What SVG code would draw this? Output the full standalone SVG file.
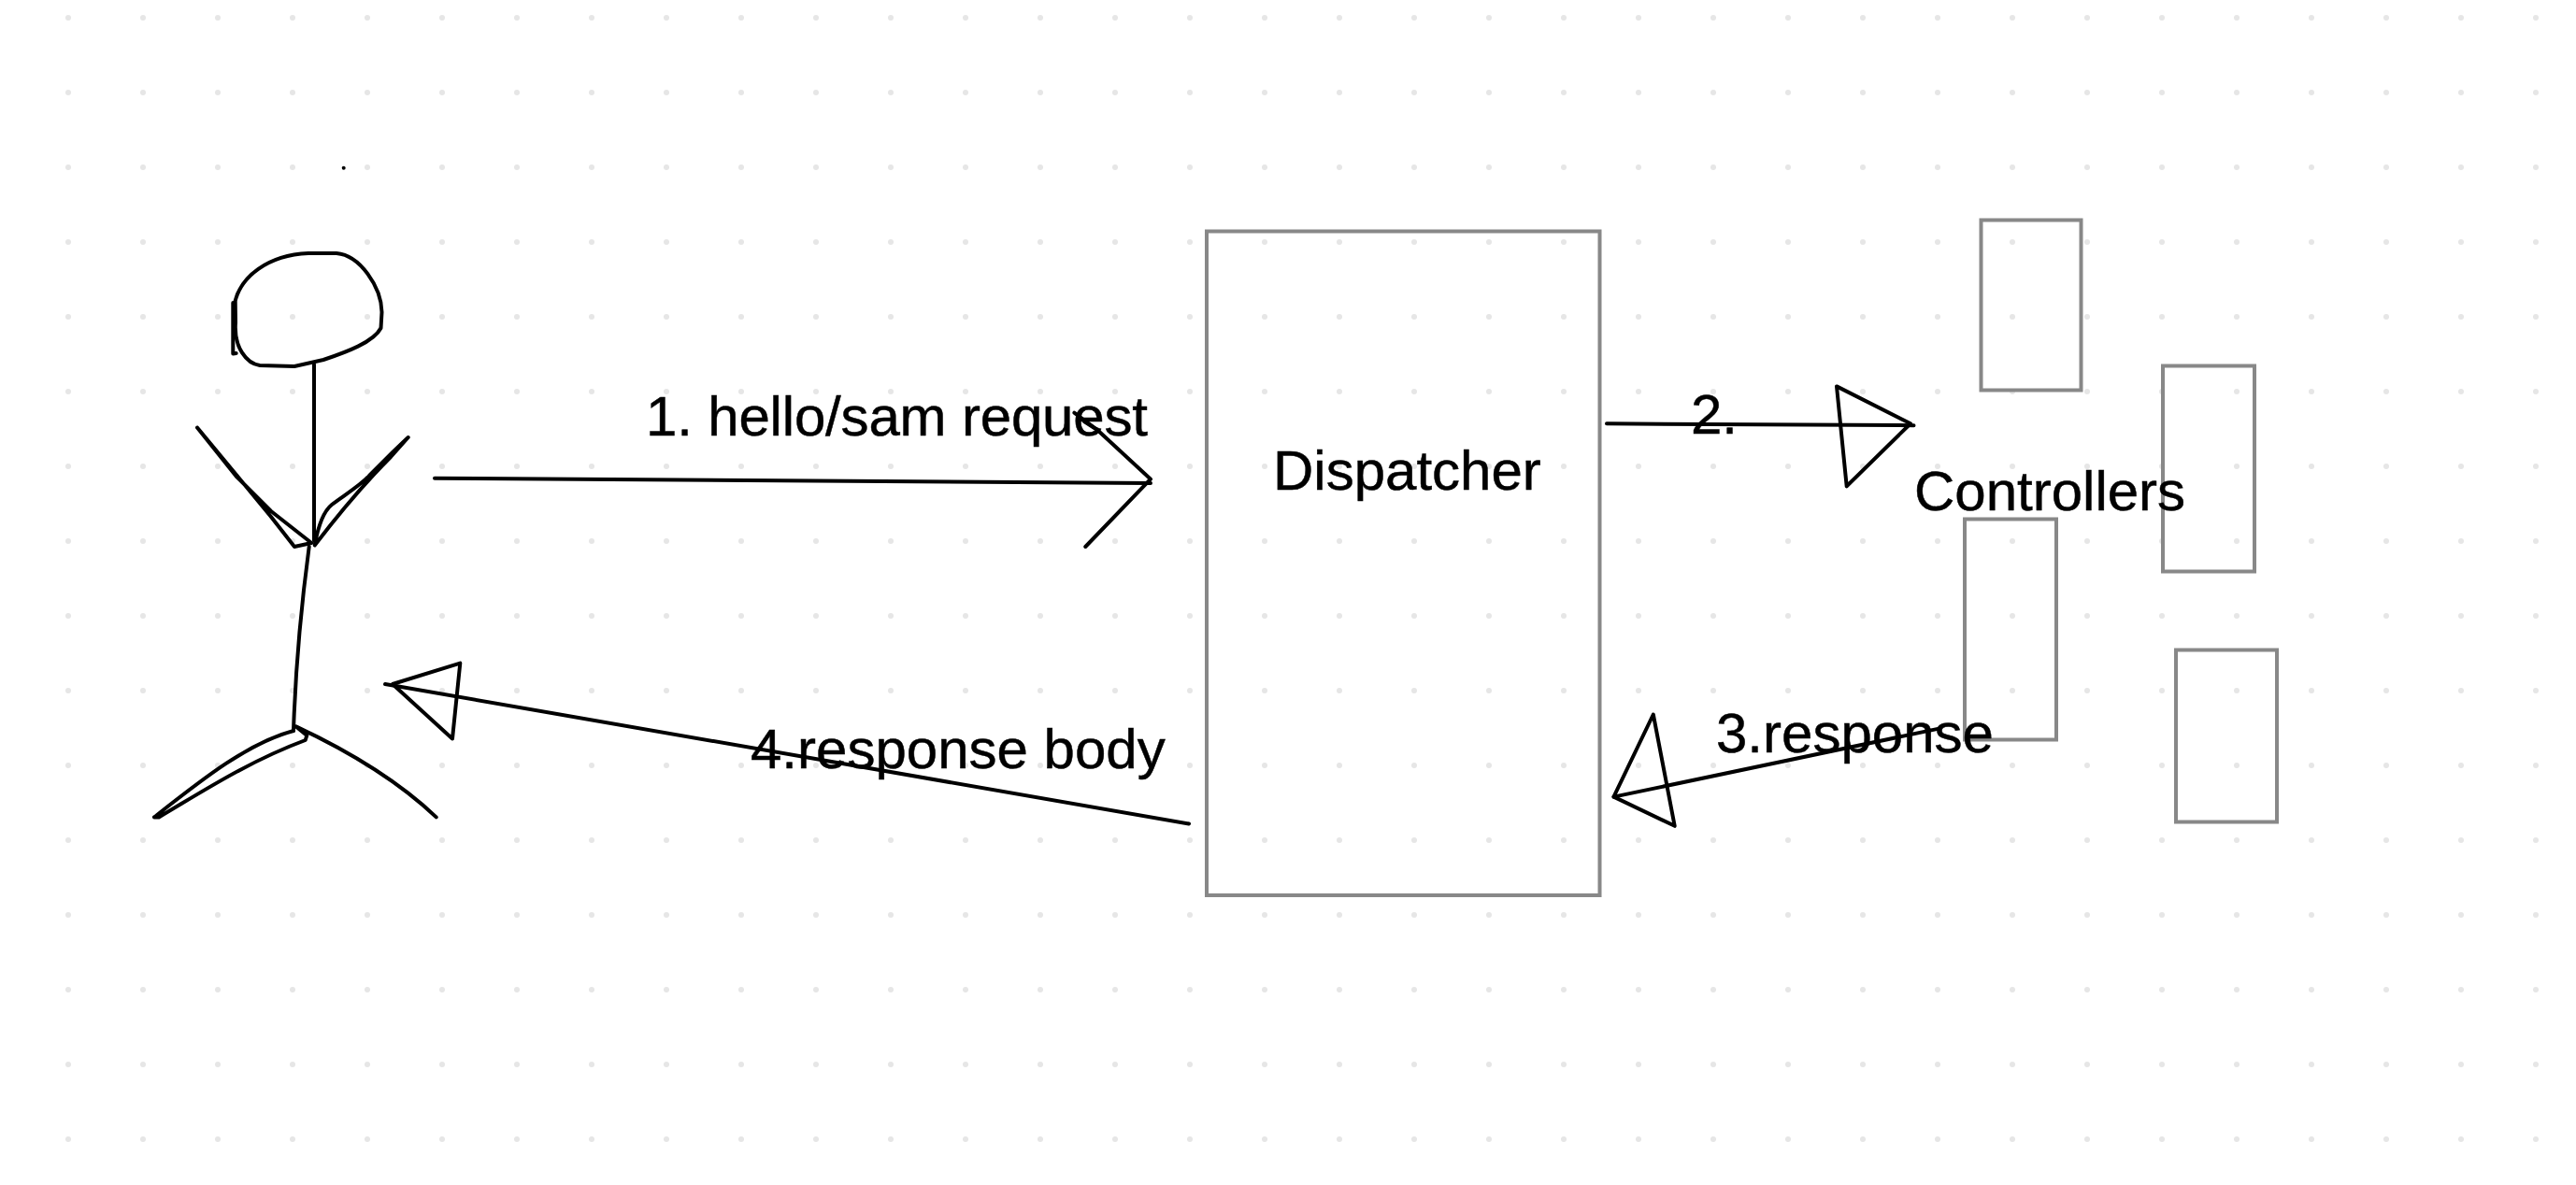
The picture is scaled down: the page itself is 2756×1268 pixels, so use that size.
<svg xmlns="http://www.w3.org/2000/svg" width="2756" height="1268" viewBox="0 0 2756 1268">
<style>
.ink{fill:none;stroke:#000;stroke-width:4;stroke-linejoin:round;stroke-linecap:round}
.box{fill:none;stroke:#888;stroke-width:4}
.lbl{font-family:"Liberation Sans",Arial,sans-serif;font-size:60px;fill:#000;stroke:#000;stroke-width:.5}
</style>
<defs>
<pattern id="grid" patternUnits="userSpaceOnUse" width="80" height="80"><circle cx="73" cy="19" r="3" fill="#e6e6e6"/></pattern>
</defs>
<rect width="2756" height="1268" fill="#fff"/>
<rect width="2756" height="1268" fill="url(#grid)"/>
<g id="person">
<circle cx="367.7" cy="179.7" r="2" fill="#000"/>
<path class="ink" d="M251.7,321.8C258,297 285,273 330,271L360,271C385,273 408,307 408.5,334L407.5,351C400,366 370,377 346,385L315,392L278,391C264,389 250,372 252,345L251.7,321.8Z"/>
<polyline class="ink" points="249.3,324 249.3,378.5 252.7,378"/>
<line class="ink" x1="336" y1="389.6" x2="336" y2="578.7"/>
<path class="ink" d="M211,457.5L253,510L290,547L333.3,581L315,585L290,553L211,457.5"/>
<path class="ink" d="M436.7,468L418,489C395,512 370,540 336.7,583.5C340,565 345,548 355,540C368,530 385,520 395,509L420,484L436.7,468"/>
<path class="ink" d="M330.7,585C322,650 316,720 314,782"/>
<path class="ink" d="M314,782C265,795 215,835 165,874.4L170,874.4C215,848 265,815 326.7,792L328.3,787L316.7,777.4C365,800 420,830 466.7,874.4"/>
</g>
<g id="dispatcher">
<rect class="box" x="1291" y="247.5" width="420.5" height="710.5"/>
<text class="lbl" x="1362" y="524">Dispatcher</text>
</g>
<g id="controllers">
<rect class="box" x="2119.5" y="235.5" width="107" height="182"/>
<rect class="box" x="2314" y="391.5" width="98" height="220"/>
<rect class="box" x="2102" y="555.5" width="98" height="236"/>
<rect class="box" x="2328" y="695.5" width="108" height="184"/>
<text class="lbl" x="2048" y="546">Controllers</text>
</g>
<g id="connectors">
<polyline class="ink" points="465,511.8 1231,517"/>
<polyline class="ink" points="1160,451 1174,460 1231,512.7 1161.3,585"/>
<line class="ink" x1="1149.3" y1="441.7" x2="1174" y2="460"/>
<polyline class="ink" points="1719,453.3 2047.5,455.2"/>
<polygon class="ink" points="1965,413.4 2044,453.3 1975.7,520.3"/>
<path class="ink" d="M2074.5,779.6C2000,795 1860,825 1726.5,852.6"/>
<polygon class="ink" points="1768.8,764.5 1726.5,852.6 1791.7,883.8"/>
<line class="ink" x1="1272" y1="881.5" x2="412" y2="732"/>
<polygon class="ink" points="420,732 492.3,709.6 484,790.5"/>
</g>
<g id="labels">
<text class="lbl" x="691" y="466" textLength="537">1. hello/sam request</text>
<text class="lbl" x="1809" y="464">2.</text>
<text class="lbl" x="1836" y="805">3.response</text>
<text class="lbl" x="803" y="822">4.response body</text>
</g>
</svg>
